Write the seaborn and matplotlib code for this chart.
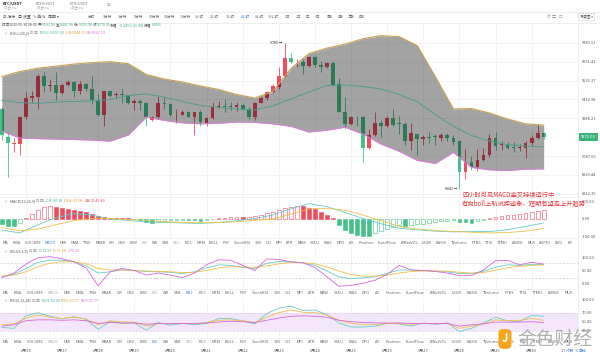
import numpy as np
import seaborn as sns
import matplotlib.pyplot as plt
import matplotlib.transforms as mtransforms
from matplotlib.ticker import NullLocator, NullFormatter

# BTC/USDT 4h candles (last one = 2020-06-30 08:00)
opens = [9346, 9166, 9122, 9122, 9300, 9424, 9430, 9564, 9502, 9508,
         9455, 9508, 9525, 9464, 9514, 9480, 9405, 9307, 9466, 9438,
         9450, 9440, 9388, 9398, 9388, 9280, 9300, 9388, 9383, 9307,
         9313, 9332, 9300, 9328, 9260, 9290, 9360, 9370, 9368, 9360,
         9375, 9352, 9296, 9388, 9420, 9460, 9495, 9564, 9685, 9664,
         9662, 9632, 9692, 9642, 9624, 9654, 9512, 9332, 9254, 9300,
         9300, 9101, 9181, 9260, 9240, 9290, 9258, 9250, 9143, 9190,
         9155, 9170, 9172, 9163, 9181, 9164, 9140, 8950, 9012, 8978,
         9025, 9055, 9164, 9115, 9125, 9106, 9100, 9100, 9127, 9164,
         9191.99]
highs = [9360, 9201, 9160, 9306, 9459, 9470, 9580, 9590, 9547, 9590,
         9515, 9541, 9535, 9535, 9522, 9567, 9447, 9470, 9470, 9462,
         9480, 9442, 9415, 9410, 9394, 9306, 9435, 9430, 9385, 9350,
         9340, 9338, 9330, 9340, 9296, 9394, 9400, 9415, 9394, 9394,
         9382, 9360, 9394, 9435, 9470, 9514, 9625, 9789, 9720, 9680,
         9680, 9703, 9700, 9670, 9660, 9670, 9555, 9426, 9306, 9306,
         9306, 9220, 9330, 9276, 9306, 9346, 9306, 9262, 9260, 9190,
         9182, 9200, 9186, 9197, 9192, 9182, 9140, 9095, 9050, 9095,
         9100, 9185, 9200, 9140, 9135, 9135, 9125, 9145, 9181, 9249,
         9201.56]
lows = [9150, 8915, 9075, 9052, 9286, 9394, 9350, 9460, 9470, 9405,
        9447, 9502, 9430, 9447, 9470, 9383, 9305, 9242, 9428, 9420,
        9388, 9382, 9340, 9345, 9242, 9270, 9286, 9350, 9305, 9260,
        9307, 9295, 9181, 9242, 9242, 9286, 9355, 9328, 9340, 9335,
        9340, 9286, 9280, 9385, 9410, 9455, 9480, 9558, 9654, 9624,
        9580, 9625, 9625, 9590, 9620, 9498, 9328, 9222, 9245, 9240,
        9013, 9095, 9176, 9170, 9232, 9242, 9190, 9118, 9085, 9052,
        9118, 9130, 9118, 9140, 9145, 9118, 8841, 8905, 8960, 8955,
        9018, 9040, 9085, 9085, 9090, 9075, 9080, 9035, 9118, 9155,
        9155.38]
closes = [9181, 9128, 9128, 9300, 9422, 9432, 9564, 9502, 9508, 9455,
          9508, 9529, 9464, 9514, 9477, 9405, 9307, 9466, 9432, 9450,
          9440, 9388, 9400, 9388, 9300, 9300, 9388, 9383, 9307, 9313,
          9332, 9300, 9328, 9264, 9290, 9360, 9370, 9360, 9362, 9375,
          9352, 9296, 9388, 9422, 9460, 9497, 9564, 9685, 9658, 9668,
          9632, 9692, 9640, 9624, 9654, 9506, 9332, 9254, 9300, 9296,
          9101, 9181, 9260, 9240, 9290, 9248, 9250, 9143, 9195, 9155,
          9170, 9165, 9168, 9181, 9164, 9135, 8950, 9012, 8978, 9025,
          9055, 9164, 9113, 9125, 9100, 9100, 9106, 9127, 9164, 9195,
          9170.00]

# BOLL(20,2) read every 3rd candle
band_idx = list(range(0, 91, 3))
boll_up = [9562, 9596, 9619, 9632, 9646, 9656, 9662, 9649, 9576, 9546, 9526,
           9500, 9477, 9444, 9421, 9463, 9616, 9717, 9754, 9781, 9818, 9839,
           9832, 9771, 9562, 9349, 9352, 9323, 9284, 9253, 9244]
boll_mid = [9404, 9391, 9385, 9395, 9398, 9401, 9411, 9437, 9447, 9427, 9398,
            9372, 9359, 9349, 9343, 9369, 9414, 9460, 9503, 9506, 9496, 9480,
            9444, 9395, 9313, 9237, 9178, 9142, 9120, 9110, 9106]
boll_low = [9206, 9162, 9158, 9155, 9152, 9149, 9142, 9181, 9297, 9275, 9259,
            9253, 9256, 9265, 9262, 9253, 9237, 9200, 9212, 9231, 9187, 9123,
            9078, 9020, 9001, 9071, 8976, 8961, 8957, 8965, 8967]

# MACD(12,26,9)
macd_hist = [-30, -42, -45, -28, 5, 28, 50, 65, 70, 66, 63, 57, 48, 43, 37, 25,
             12, 8, 6, 5, 4, 3, -2, -10, -20, -26, -18, -14, -11, -9, -7, -9,
             -11, -13, -8, -3, 3, 5, 7, 9, 8, 10, 15, 22, 30, 38, 48, 58, 68,
             74, 72, 62, 52, 40, 20, 5, -35, -63, -83, -92, -100, -102, -85,
             -72, -58, -46, -36, -40, -35, -32, -29, -25, -20, -15, -12, -10,
             -20, -22, -24, -15, -8, 3, 10, 14, 18, 22, 27, 33, 38, 43, 46]
dif = [-66, -82, -35, 5, 28, 20, -3, -10, -20, -22, -25, -28, -22, -13, 0, 20,
       55, 85, 68, 35, 0, -30, -55, -65, -72, -76, -73, -75, -63, -45, -25]
dea = [-51, -70, -60, -35, -12, 0, 0, -5, -10, -18, -22, -24, -23, -18, -10, -3,
       25, 55, 58, 48, 20, -12, -45, -60, -68, -74, -78, -82, -80, -72, -57]

# KDJ(9,3,3) and RSI(6,12,24), read every 2nd candle
osc_idx = list(range(0, 91, 2))
k_line = [26, 35, 58, 82, 90, 90, 84, 68, 40, 45, 52, 50, 46, 45, 43, 38, 45, 60,
          72, 70, 62, 58, 78, 85, 84, 80, 70, 48, 25, 18, 21, 26, 38, 52, 52, 50,
          48, 45, 38, 38, 47, 63, 72, 70, 74, 73]
d_line = [28, 32, 45, 65, 78, 84, 84, 76, 58, 52, 52, 50, 48, 46, 45, 42, 43, 50,
          60, 65, 64, 62, 68, 76, 82, 80, 76, 64, 48, 34, 28, 28, 32, 40, 46, 48,
          48, 47, 43, 40, 42, 51, 61, 66, 70, 72]
j_line = [22, 40, 75, 100, 104, 96, 84, 60, -10, 45, 58, 50, 32, 40, 32, 22, 40,
          72, 92, 90, 70, 50, 95, 93, 84, 80, 62, 25, -12, -8, 0, 12, 35, 70, 52,
          50, 46, 40, 30, 30, 52, 88, 90, 72, 82, 75]
rsi1 = [37, 35, 63, 70, 62, 56, 61, 55, 33, 50, 46, 47, 31, 48, 42, 46, 43, 46,
        57, 57, 52, 45, 68, 80, 85, 75, 76, 66, 47, 38, 38, 40, 46, 45, 40, 47,
        44, 47, 28, 35, 47, 60, 52, 50, 64, 62]
rsi2 = [43, 45, 58, 65, 60, 57, 60, 56, 43, 52, 49, 49, 40, 46, 45, 46, 45, 48,
        53, 54, 52, 48, 60, 70, 76, 71, 70, 65, 53, 46, 43, 44, 46, 46, 44, 46,
        45, 46, 35, 40, 45, 54, 52, 53, 57, 53]
rsi3 = [40, 43, 52, 54, 54, 53, 54, 52, 46, 48, 47, 47, 44, 46, 46, 46, 46, 47,
        49, 51, 50, 48, 53, 58, 62, 63, 62, 60, 53, 50, 48, 47, 47, 47, 46, 46,
        46, 46, 40, 43, 45, 49, 49, 49, 50, 48]

price_ticks = [9789.11, 9661.41, 9535.37, 9410.98, 9288.21, 9047.66, 8929.44, 8812.35]
day_idx = list(range(4, 91, 6))
day_labels = ['6月16', '6月17', '6月18', '6月19', '6月20', '6月21', '6月22', '6月23',
              '6月24', '6月25', '6月26', '6月27', '6月28', '6月29', '6月30']
periods = ['分时', '1分钟', '3分钟', '5分钟', '10分钟', '15分钟', '30分钟', '1小时',
           '2小时', '3小时', '4小时', '6小时', '12小时', '1日', '2日', '3日', '5日',
           '周K', '月K', '季K', '年K']
indicators = ['MA', 'EMA', 'VOLUME', 'MACD', 'DMI', 'DMA', 'TRIX', 'BRAR', 'VR', 'OBV',
              'EMV', 'RSI', 'WR', 'SAR', 'KDJ', 'ROC', 'MTM', 'BOLL', 'PSY', 'StochRSI',
              'SMI', 'CCI', 'MFI', 'ATR', 'BBW', 'SKDJ', 'BIAS', 'DPO', 'AO', 'Position',
              'FundFlow', 'AINetVOL', 'LSUR', 'BASIS', 'TVolume', 'FTBS', 'TTSI', 'TTMU',
              'AUBSI', 'MLR', 'AUPDI', 'AUU', 'FR']

RED, GREEN = '#ee4b5e', '#45c088'
TEAL, GOLD, PINK = '#62cdc8', '#f0bf45', '#d866d8'
BLUE = '#3d7be0'

sns.set_style('white')
plt.rcParams['font.family'] = ['Noto Sans CJK SC', 'DejaVu Sans']
plt.rcParams['axes.unicode_minus'] = False

W, H = 600, 356
fig = plt.figure(figsize=(W / 100, H / 100), dpi=100)
fig.patch.set_facecolor('white')
renderer = fig.canvas.get_renderer()


def fy(y):
    return 1 - y / H


def runs(x, y, parts, size=2.7, weight='normal'):
    # consecutive coloured text pieces on one line
    for s, c in parts:
        t = fig.text(x / W, fy(y), s, color=c, fontsize=size, va='center',
                     ha='left', fontweight=weight)
        x += t.get_window_extent(renderer=renderer).width
    return x


def spread(x0, x1, y, names, colors, size=2.9):
    ts = [fig.text(0, fy(y), n, color=colors.get(n, '#666666'), fontsize=size,
                   va='center', ha='left') for n in names]
    widths = [t.get_window_extent(renderer=renderer).width for t in ts]
    gap = (x1 - x0 - sum(widths)) / (len(ts) - 1)
    x = x0
    for t, w in zip(ts, widths):
        t.set_x(x / W)
        x += w + gap


def hline(y, x0=0, x1=W, color='#e8e8e8'):
    fig.add_artist(plt.Line2D([x0 / W, x1 / W], [fy(y), fy(y)], color=color, lw=0.5))


def panel(top, bottom, log=False):
    a = fig.add_axes([0, fy(bottom), 578 / W, (bottom - top) / H])
    if log:
        a.set_yscale('log')
        a.yaxis.set_minor_locator(NullLocator())
        a.yaxis.set_minor_formatter(NullFormatter())
    a.set_xlim(-0.3, 95.7)
    a.set_facecolor('none')
    for s in a.spines.values():
        s.set_visible(False)
    a.set_xticks(day_idx)
    a.set_xticklabels([])
    a.tick_params(axis='x', length=0)
    a.yaxis.tick_right()
    a.tick_params(axis='y', length=0, pad=2.5, labelsize=2.9, labelcolor='#555555')
    a.grid(True, axis='x', color='#f0f0f0', lw=0.5)
    return a


idx = np.arange(len(closes))
o = np.array(opens)
c = np.array(closes)
col = np.where(c >= o, RED, GREEN)

# ---- main price panel
ax = panel(23, 197, log=True)
ax.set_ylim(8793, 9926)
ax.set_yticks(price_ticks)
ax.set_yticklabels([f'{v:.2f}' for v in price_ticks])
ax.grid(True, axis='y', color='#f0f0f0', lw=0.5)
ax.vlines(idx, lows, highs, colors=col, lw=0.6, zorder=2)
ax.bar(idx, np.maximum(np.abs(c - o), 2.5), bottom=np.minimum(o, c), width=0.62,
       color=col, lw=0, zorder=2)
ax.fill_between(band_idx, boll_low, boll_up, color='black', alpha=0.36, lw=0, zorder=3)
sns.lineplot(x=band_idx, y=boll_up, ax=ax, color='#c9a24e', lw=0.8, zorder=4)
sns.lineplot(x=band_idx, y=boll_low, ax=ax, color='#d77fd7', lw=0.8, zorder=4)
sns.lineplot(x=band_idx, y=boll_mid, ax=ax, color='#4f9e90', lw=0.7, zorder=4)
ax.set_xlabel('')
ax.set_ylabel('')
ax.text(46.6, 9789, '9785 →', fontsize=2.6, color='#333333', ha='right', va='center')
ax.text(75.6, 8841, '8841 →', fontsize=2.6, color='#333333', ha='right', va='center')
tr = mtransforms.blended_transform_factory(ax.transAxes, ax.transData)
ax.text(1 + 3 / 578, 9170, '9170.00', transform=tr, fontsize=2.9, color='white',
        ha='left', va='center', clip_on=False,
        bbox=dict(boxstyle='square,pad=0.45', fc='#3cb37a', ec='none'))

# ---- MACD panel
ax_macd = panel(197, 238)
ax_macd.set_ylim(-111, 123)
ax_macd.set_yticks([100, 0, -100])
ax_macd.set_yticklabels(['100.00', '0.00', '-100.00'])
hist = np.array(macd_hist)
prev = np.r_[hist[0], hist[:-1]]
hollow = ((hist >= 0) & (hist >= prev)) | ((hist < 0) & (hist > prev))
edge = np.where(hist >= 0, RED, GREEN)
face = np.where(hollow, 'white', edge)
ax_macd.bar(idx, hist, width=0.62, color=face, edgecolor=edge, lw=0.4, zorder=2)
sns.lineplot(x=band_idx, y=dif, ax=ax_macd, color=TEAL, lw=0.6, zorder=3)
sns.lineplot(x=band_idx, y=dea, ax=ax_macd, color=GOLD, lw=0.6, zorder=3)
ax_macd.set_xlabel('')
ax_macd.set_ylabel('')

# ---- KDJ panel
ax_kdj = panel(247, 289)
ax_kdj.set_ylim(-22.3, 141.8)
ax_kdj.set_yticks([100, 50, 0])
ax_kdj.set_yticklabels(['100.00', '50.00', '0.00'])
for lvl in (80, 20):
    ax_kdj.axhline(lvl, color='#cccccc', lw=0.5, ls=(0, (3, 2)), zorder=1)
sns.lineplot(x=osc_idx, y=k_line, ax=ax_kdj, color=TEAL, lw=0.6)
sns.lineplot(x=osc_idx, y=d_line, ax=ax_kdj, color=GOLD, lw=0.6)
sns.lineplot(x=osc_idx, y=j_line, ax=ax_kdj, color=PINK, lw=0.6)
ax_kdj.set_xlabel('')
ax_kdj.set_ylabel('')

# ---- RSI panel
ax_rsi = panel(297, 338)
ax_rsi.set_ylim(13.4, 105.1)
ax_rsi.set_yticks([100, 70, 50, 30])
ax_rsi.set_yticklabels(['100.00', '70.00', '50.00', '30.00'])
ax_rsi.axhspan(30, 70, color='#f3e6fb', lw=0, zorder=0)
for lvl in (70, 30):
    ax_rsi.axhline(lvl, color='#d9c9e6', lw=0.5, ls=(0, (3, 2)), zorder=1)
sns.lineplot(x=osc_idx, y=rsi1, ax=ax_rsi, color=TEAL, lw=0.6)
sns.lineplot(x=osc_idx, y=rsi2, ax=ax_rsi, color=GOLD, lw=0.6)
sns.lineplot(x=osc_idx, y=rsi3, ax=ax_rsi, color=PINK, lw=0.6)
ax_rsi.set_xlabel('')
ax_rsi.set_ylabel('')

# date labels under the last panel
dtr = mtransforms.blended_transform_factory(ax_rsi.transData, fig.transFigure)
for d, lab in zip(day_idx, day_labels):
    ax_rsi.text(d, fy(350.5), lab, transform=dtr, fontsize=2.9, color='#555555',
                ha='center', va='center', clip_on=False)

# ---- frame lines
hline(11.5)
hline(22.5)
for y in (197, 238, 289, 338):
    hline(y, 0, 578, '#ececec')
fig.add_artist(plt.Line2D([578 / W, 578 / W], [fy(23), fy(346)], color='#e6e6e6', lw=0.5))

# ---- header: tabs, toolbar, info row
for x0, pair in ((3, 'BTC/USDT'), (36, 'BCH/USDT'), (70, 'ETH/USDT')):
    fig.text(x0 / W, fy(3.8), pair, fontsize=2.8, color='#222222' if x0 == 3 else '#777777',
             fontweight='bold' if x0 == 3 else 'normal', va='center')
    fig.text(x0 / W, fy(8.6), '火币全球站', fontsize=2.0, color='#aaaaaa', va='center')
fig.text(107 / W, fy(5), '⊞', fontsize=3.2, color='#999999', va='center')

runs(3, 16.5, [('⊟ 指标   ', '#555555'), ('◎ 设置   ', '#555555'), ('✎ 画线   ', '#555555'),
               ('周期 ▾', '#555555')], size=2.9)
px = [88, 103, 118, 134, 149, 164, 180, 195, 210, 226, 241, 255, 268, 285, 296, 305,
      315, 327, 338, 349, 359]
for x0, p in zip(px, periods):
    fig.text(x0 / W, fy(16.5), p, fontsize=2.6, color=BLUE if p == '4小时' else '#666666',
             va='center', ha='left')
runs(547, 16.5, [('◷  ', '#777777'), ('□  ', '#777777'), ('☐', '#777777')], size=3.0)
fig.text(586 / W, fy(16.5), '深度图 ▾', fontsize=2.5, color='#555555', ha='center', va='center',
         bbox=dict(boxstyle='square,pad=0.3', fc='white', ec='#cccccc', lw=0.4))

GRN_TXT = '#2fa86c'
runs(2, 25.5, [('时间2020-06-30 08:00 ', '#555555'), ('开:', '#555555'), ('9191.99 ', GRN_TXT),
               ('高:', '#555555'), ('9201.56 ', GRN_TXT), ('低:', '#555555'),
               ('9155.38 ', GRN_TXT), ('收:', '#555555'), ('9170.00 ', GRN_TXT),
               ('涨幅:', '#555555'), ('-0.24%(-21.99) ', GRN_TXT), ('振幅:', '#555555'),
               ('0.50%', GRN_TXT)], size=2.6)

legends = [
    (33.5, 'BOLL(20,2)', [('BOLL:9105.63  ', '#3fb5a5'), ('UB:9244.13  ', '#e0a030'), ('LB:8967.13', PINK)]),
    (201.5, 'MACD(12,26,9)', [('DIF:24.18  ', '#3fb5a5'), ('DEA:-47.08  ', '#e0a030'), ('MACD:45.80', '#e04a5a')]),
    (251.5, 'KDJ(9,3,3)', [('K:72.97  ', '#3fb5a5'), ('D:71.84  ', '#e0a030'), ('J:75.23', PINK)]),
    (300.5, 'RSI(6,12,24)', [('RSI1:62.43  ', '#3fb5a5'), ('RSI2:52.77  ', '#e0a030'), ('RSI3:47.77', PINK)]),
]
for y, name, vals in legends:
    runs(4, y, [('∨  ', '#888888'), (name + '  ', '#555555'), ('⊡ ⊠  ', '#888888')] + vals, size=2.7)

# indicator selector rows
spread(3, 572, 243.3, indicators, {'MACD': BLUE, 'RSI': '#aaaaaa', 'KDJ': '#aaaaaa'})
spread(3, 572, 293.3, indicators[:40], {'KDJ': BLUE, 'MACD': '#aaaaaa', 'RSI': '#aaaaaa'})
spread(3, 572, 342.3, indicators[:40], {'RSI': BLUE, 'MACD': '#aaaaaa', 'KDJ': '#aaaaaa'})
runs(561, 350.5, [('1T ', '#555555'), ('对数 ', BLUE), ('% ', '#555555'), ('自动', BLUE)], size=2.7)

# red commentary and watermark
fig.text(462 / W, fy(195), '四小时可见MACD金叉持续运行中', fontsize=4.5, color='#e8333a', va='center')
fig.text(462 / W, fy(203.5), '有向boll上轨试探迹象，短期有望走上升趋势', fontsize=4.5,
         color='#e8333a', va='center')
fig.text(505 / W, fy(339), 'J', fontsize=8, color='white', fontweight='bold', ha='center',
         va='center', bbox=dict(boxstyle='round,pad=0.3,rounding_size=0.4', fc='#f3a51c', ec='none'))
fig.text(517 / W, fy(339.5), '金色财经', fontsize=13.5, color='#a3a3a3', alpha=0.85,
         va='center', ha='left')

fig.savefig('out.png', dpi=100, facecolor='white')
